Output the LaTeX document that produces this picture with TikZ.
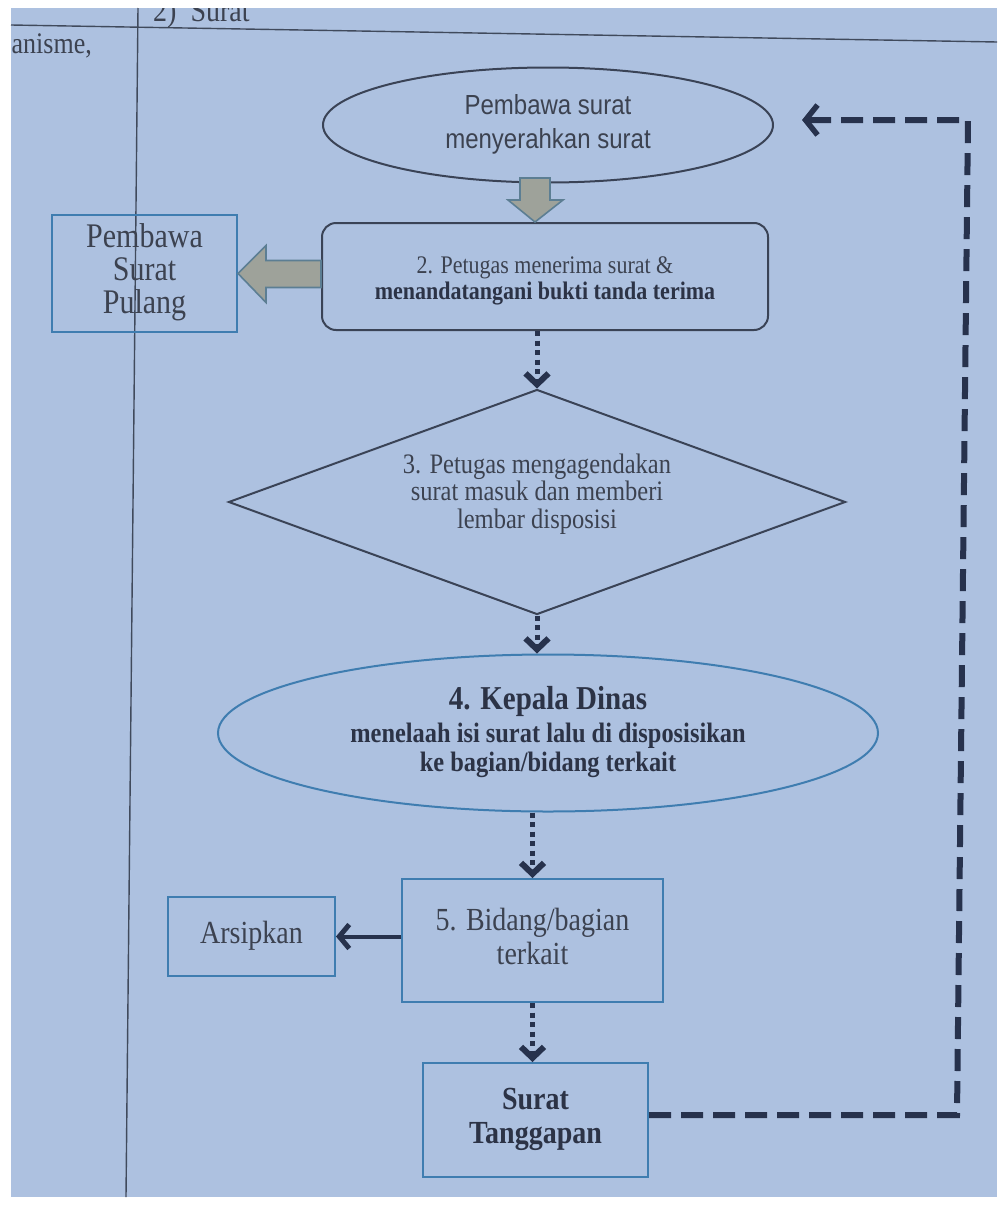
\documentclass[tikz,border=0pt]{standalone}
\usepackage{fontspec}
\setmainfont{Liberation Serif}
\newfontfamily\arialf{Liberation Sans}
\usepackage{graphicx}
\usetikzlibrary{shapes.geometric,arrows.meta,calc}
\definecolor{bgblue}{RGB}{173,193,224}
\definecolor{txtc}{RGB}{60,66,80}
\definecolor{txtb}{RGB}{44,51,70}
\definecolor{darkline}{RGB}{58,67,86}
\definecolor{boxblue}{RGB}{63,125,176}
\definecolor{navy}{RGB}{39,50,77}
\definecolor{arrowfill}{RGB}{158,162,154}
\definecolor{arrowedge}{RGB}{92,126,147}
\definecolor{tablec}{RGB}{64,74,92}
\newcommand\vtext[4]{\scalebox{1}[1.15]{#1\fontsize{#2}{#3}\selectfont\begin{tabular}{@{}c@{}}#4\end{tabular}}}
\begin{document}
\begin{tikzpicture}[x=1pt,y=-1pt,
  bluebox/.style={draw=boxblue, line width=2pt, rectangle, inner sep=0pt, text=txtc},
  darkshape/.style={draw=darkline, line width=2pt, inner sep=0pt, text=txtc},
  blockarrow/.style={draw=arrowedge, line width=1.6pt, fill=arrowfill, line join=miter},
  dotarrow/.style={draw=navy, line width=5pt, dash pattern=on 5pt off 4.5pt, -{Straight Barb[length=11pt,width=23pt,line width=6pt]}},
  solidarrow/.style={draw=navy, line width=4pt, -{Straight Barb[length=10pt,width=24pt,line width=5pt]}},
  dasharrow/.style={draw=navy, line width=6pt, dash pattern=on 22pt off 10pt, -{Straight Barb[length=12pt,width=30pt,line width=5.5pt]}},
  tableline/.style={draw=tablec, line width=1.4pt},
  plain/.style={inner sep=0pt, text=txtc}]
\fill[white] (0,0) rectangle (1000,1210);
\fill[bgblue] (11,8) rectangle (997,1197);
\useasboundingbox (0,0) rectangle (1000,1210);
% table lines
\draw[tableline] (11,25) -- (997,42);
\draw[tableline] (138,8) -- (126,1197);
\begin{scope}
\clip (11,8) rectangle (997,1197);
\node[plain, anchor=west] (hdr) at (153,15) {\vtext{}{28}{30}{2)\ \ Surat}};
\node[plain, anchor=east] (lft) at (92,46.6) {\vtext{}{26}{28}{anisme,}};
\end{scope}
% shapes
\node[darkshape, ellipse, minimum width=450, minimum height=115] (e1) at (548,125)
  {\vtext{\arialf}{24}{29.5}{Pembawa surat\\menyerahkan surat}};
\node[darkshape, rectangle, rounded corners=14pt, minimum width=446, minimum height=107,
  label={[plain, name=r2t, yshift=-5pt]center:{\vtext{}{22}{22.6}{2. Petugas menerima surat \&\\{\color{txtb}\bfseries menandatangani bukti tanda terima}}}}]
  (r2) at (545,276.5) {};
\node[bluebox, minimum width=185, minimum height=117] (p) at (144.5,273.5)
  {\vtext{}{30}{28.5}{Pembawa\\Surat\\Pulang}};
\node[darkshape, diamond, minimum width=617, minimum height=225,
  label={[plain, name=d3t, yshift=7pt]center:{\vtext{}{24.5}{23.5}{3. Petugas mengagendakan\\surat masuk dan memberi\\lembar disposisi}}}]
  (d3) at (537,502) {};
\node[darkshape, draw=boxblue, ellipse, minimum width=660, minimum height=157, text=txtb] (e4) at (548,733)
  {\vtext{\bfseries}{24.4}{25.2}{{\fontsize{29}{29}\selectfont 4. Kepala Dinas}\\[3.5pt]menelaah isi surat lalu di disposisikan\\ke bagian/bidang terkait}};
\node[bluebox, minimum width=261, minimum height=123] (b5) at (532.5,940.5)
  {\vtext{}{28}{29.6}{5. Bidang/bagian\\terkait}};
\node[bluebox, minimum width=167, minimum height=79] (ar) at (251.5,936.5)
  {\vtext{}{28}{30}{Arsipkan}};
\node[bluebox, minimum width=225, minimum height=114, text=txtb] (st) at (535.5,1120)
  {\vtext{\bfseries}{28}{29.6}{Surat\\Tanggapan}};
% block arrows
\draw[blockarrow] ($(r2.north)+(-10,0)$) -- ++(-27,-22) -- ++(12,0) -- ++(0,-22) -- ++(30,0) -- ++(0,22) -- ++(13,0) -- cycle;
\draw[blockarrow] (p.east) -- ++(28,-28) -- ++(0,15) -- ++(55,0) -- ++(0,27) -- ++(-55,0) -- ++(0,15) -- cycle;
% dotted arrows
\draw[dotarrow] (d3.north |- r2.south) -- (d3.north);
\draw[dotarrow] (d3.south) -- (d3.south |- e4.north);
\draw[dotarrow] (b5.north |- e4.south) -- (b5.north);
\draw[dotarrow] (b5.south) -- (b5.south |- st.north);
% solid arrow
\draw[solidarrow] (b5.west |- ar.east) -- (ar.east);
% dashed return
\coordinate (c1) at (957,1115);
\coordinate (c2) at (968,120);
\coordinate (c3) at (802,120);
\draw[dasharrow] (st.east |- c1) -- (c1) -- (c2) -- (c3);
\end{tikzpicture}
\end{document}
